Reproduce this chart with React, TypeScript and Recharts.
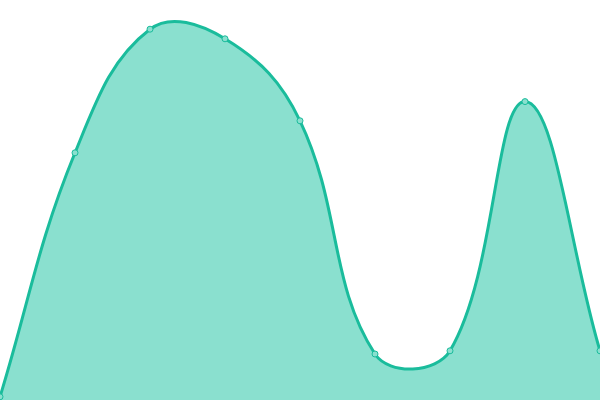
import { AreaChart, Area, XAxis, YAxis } from 'recharts'

// categories and values (0-100 scale)
const categories = ['A', 'B', 'C', 'D', 'E', 'F', 'G', 'H', 'I']
const values = [0.8, 61.8, 92.7, 90.3, 69.8, 11.5, 12.3, 74.6, 12.3]

const LINE = '#1abc9c'
const FILL = '#8ae0cf'
const TENSION = 0.4

const data = categories.map((name, i) => ({ name, value: values[i] }))

// tension spline (control points scaled by distance to neighbours)
function tensionCurve(ctx: any) {
    let xs: number[] = []
    let ys: number[] = []
    let line: number = NaN
    const clampX = (v: number) => Math.max(0, Math.min(600, v))
    const clampY = (v: number) => Math.max(0, Math.min(400, v))
    return {
        areaStart() { line = 0 },
        areaEnd() { line = NaN },
        lineStart() { xs = []; ys = [] },
        point(x: number, y: number) { xs.push(+x); ys.push(+y) },
        lineEnd() {
            const n = xs.length
            if (n) {
                line ? ctx.lineTo(xs[0], ys[0]) : ctx.moveTo(xs[0], ys[0])
                if (n === 2) {
                    ctx.lineTo(xs[1], ys[1])
                } else if (n > 2) {
                    const cp = xs.map((x, i) => {
                        const pi = Math.max(0, i - 1)
                        const ni = Math.min(n - 1, i + 1)
                        const d01 = Math.hypot(x - xs[pi], ys[i] - ys[pi])
                        const d12 = Math.hypot(xs[ni] - x, ys[ni] - ys[i])
                        const tot = d01 + d12 || 1
                        const fa = TENSION * d01 / tot
                        const fb = TENSION * d12 / tot
                        const dx = xs[ni] - xs[pi]
                        const dy = ys[ni] - ys[pi]
                        return {
                            px: clampX(x - fa * dx), py: clampY(ys[i] - fa * dy),
                            nx: clampX(x + fb * dx), ny: clampY(ys[i] + fb * dy),
                        }
                    })
                    for (let i = 1; i < n; i++) {
                        ctx.bezierCurveTo(cp[i - 1].nx, cp[i - 1].ny, cp[i].px, cp[i].py, xs[i], ys[i])
                    }
                }
            }
            if (line || (line !== 0 && n === 1)) ctx.closePath()
            line = 1 - line
        },
    }
}

export default function App() {
    return (
        <div style={{ position: 'absolute', top: 0, left: 0, width: 600, height: 400 }}>
            <AreaChart width={600} height={400} data={data} margin={{ top: 0, right: 0, bottom: 0, left: 0 }}>
                <XAxis dataKey="name" hide />
                <YAxis hide domain={[0, 100]} />
                <Area
                    type={tensionCurve as any}
                    dataKey="value"
                    stroke={LINE}
                    strokeWidth={3}
                    fill={FILL}
                    fillOpacity={1}
                    dot={{ r: 3, fill: FILL, stroke: LINE, strokeWidth: 1, fillOpacity: 1 }}
                    activeDot={false}
                    isAnimationActive={false}
                />
            </AreaChart>
        </div>
    )
}
